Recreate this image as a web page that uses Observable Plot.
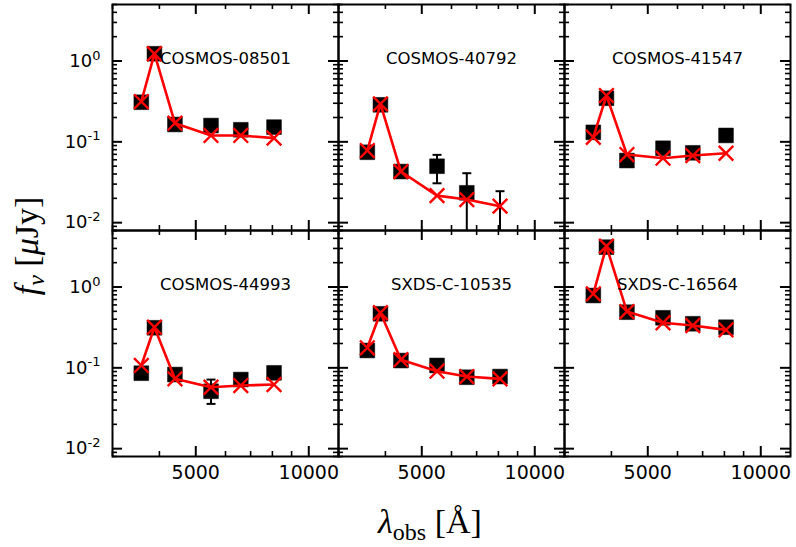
<!DOCTYPE html>
<html><head><meta charset="utf-8">
<script src="https://cdn.jsdelivr.net/npm/d3@7"></script>
<script src="https://cdn.jsdelivr.net/npm/@observablehq/plot@0.6"></script>
<style>
body{margin:0;background:#fff;}
#chart{width:796px;height:547px;overflow:hidden;}
</style></head><body><div id="chart"></div>
<script>
// ---- data ----
const panelNames = ["COSMOS-08501","COSMOS-40792","COSMOS-41547","COSMOS-44993","SXDS-C-10535","SXDS-C-16564"];
const wavelengths = [3580, 3880, 4400, 5490, 6590, 8080];
const obsFlux = [
  [0.309, 1.23, 0.164, 0.159, 0.141, 0.152],
  [0.0743, 0.287, 0.0429, 0.0499, 0.0234, 0.004],
  [0.131, 0.346, 0.0587, 0.0833, 0.0731, 0.120],
  [0.0858, 0.313, 0.0826, 0.0513, 0.0716, 0.0867],
  [0.164, 0.466, 0.123, 0.107, 0.0765, 0.078],
  [0.785, 3.11, 0.488, 0.416, 0.351, 0.318]
];
const obsErrLow = [
  [null, null, null, null, null, null],
  [null, null, null, 0.0307, 0.0001, 0.0001],
  [null, null, null, 0.074, null, null],
  [null, null, null, 0.0358, null, 0.076],
  [null, null, null, null, null, null],
  [null, null, null, null, null, null]
];
const obsErrHigh = [
  [null, null, null, null, null, null],
  [null, null, null, 0.069, 0.0409, 0.0245],
  [null, null, null, 0.094, null, null],
  [null, null, null, 0.0716, null, 0.099],
  [null, null, null, null, null, null],
  [null, null, null, null, null, null]
];
const modelFlux = [
  [0.315, 1.23, 0.170, 0.120, 0.120, 0.111],
  [0.078, 0.295, 0.0429, 0.0216, 0.0193, 0.016],
  [0.114, 0.374, 0.0696, 0.0627, 0.0677, 0.0722],
  [0.107, 0.318, 0.0731, 0.0575, 0.0604, 0.0621],
  [0.177, 0.480, 0.126, 0.0908, 0.078, 0.0731],
  [0.824, 3.20, 0.497, 0.361, 0.334, 0.295]
];
const xMajorTicks = [5000, 10000];
const xMinorTicks = [3000, 4000, 6000, 7000, 8000, 9000];
const yMajorTicks = [0.01, 0.1, 1];
const yMinorTicks = [0.008, 0.009, 0.02, 0.03, 0.04, 0.05, 0.06, 0.07, 0.08, 0.09,
                     0.2, 0.3, 0.4, 0.5, 0.6, 0.7, 0.8, 0.9, 2, 3, 4, 5];

// ---- tables ----
const rows = [];
const errRows = [];
panelNames.forEach((name, p) => {
  wavelengths.forEach((wl, i) => {
    const r = {panel: name, col: p % 3, row: Math.floor(p / 3), wl,
      obs: obsFlux[p][i], model: modelFlux[p][i], lo: obsErrLow[p][i], hi: obsErrHigh[p][i]};
    rows.push(r);
    if (r.lo != null && r.hi != null) errRows.push(r);
  });
});
const labelRows = panelNames.map((name, p) => ({panel: name, col: p % 3, row: Math.floor(p / 3)}));

// ---- layout ----
const W = 796, H = 547, mL = 112, mR = 6, mT = 4, mB = 91;
const P = (W - mL - mR) / 3; // panel size
const MAJ = 10, MIN = 5;

const squareSym = {draw(ctx, size) { const r = Math.sqrt(size / Math.PI);
  ctx.moveTo(-r, -r); ctx.lineTo(r, -r); ctx.lineTo(r, r); ctx.lineTo(-r, r); ctx.closePath(); }};
const crossSym = {draw(ctx, size) { const r = Math.sqrt(size / Math.PI);
  ctx.moveTo(-r, -r); ctx.lineTo(r, r); ctx.moveTo(-r, r); ctx.lineTo(r, -r); }};
const capSym = {draw(ctx, size) { const r = Math.sqrt(size / Math.PI);
  ctx.moveTo(-r, 0); ctx.lineTo(r, 0); }};

const fxy = {fx: "col", fy: "row"};
const chart = Plot.plot({
  width: W, height: H,
  marginLeft: mL, marginRight: mR, marginTop: mT, marginBottom: mB,
  style: {fontFamily: "DejaVu Sans", background: "white", color: "black"},
  x: {type: "log", domain: [3000, 12000]},
  y: {type: "log", domain: [0.008, 5]},
  fx: {domain: [0, 1, 2], padding: 0, axis: null},
  fy: {domain: [0, 1], padding: 0, axis: null},
  marks: [
    // observed squares
    Plot.dot(rows, {x: "wl", y: "obs", ...fxy, symbol: squareSym, r: 7.4, fill: "black", stroke: "black", strokeWidth: 0.5, clip: true}),
    // error bars
    Plot.ruleX(errRows, {x: "wl", y1: "lo", y2: "hi", ...fxy, stroke: "black", strokeWidth: 2, clip: true}),
    Plot.dot(errRows, {x: "wl", y: "hi", ...fxy, symbol: capSym, r: 4.5, fill: "none", stroke: "black", strokeWidth: 2, clip: true}),
    Plot.dot(errRows, {x: "wl", y: "lo", ...fxy, symbol: capSym, r: 4.5, fill: "none", stroke: "black", strokeWidth: 2, clip: true}),
    // model
    Plot.line(rows, {x: "wl", y: "model", z: "panel", ...fxy, stroke: "red", strokeWidth: 2.6}),
    Plot.dot(rows, {x: "wl", y: "model", ...fxy, symbol: crossSym, r: 7.3, fill: "none", stroke: "red", strokeWidth: 2.4}),
    // panel labels
    Plot.text(labelRows, {text: "panel", ...fxy, frameAnchor: "top", dy: 48, fontSize: 16.5, fill: "black"}),
    // frame
    Plot.frame({stroke: "black", strokeWidth: 2}),
    // inward ticks on all four sides
    Plot.tickX(xMajorTicks, {x: d => d, insetTop: P - MAJ, stroke: "black", strokeWidth: 2}),
    Plot.tickX(xMajorTicks, {x: d => d, insetBottom: P - MAJ, stroke: "black", strokeWidth: 2}),
    Plot.tickX(xMinorTicks, {x: d => d, insetTop: P - MIN, stroke: "black", strokeWidth: 1.6}),
    Plot.tickX(xMinorTicks, {x: d => d, insetBottom: P - MIN, stroke: "black", strokeWidth: 1.6}),
    Plot.tickY(yMajorTicks, {y: d => d, insetRight: P - MAJ, stroke: "black", strokeWidth: 2}),
    Plot.tickY(yMajorTicks, {y: d => d, insetLeft: P - MAJ, stroke: "black", strokeWidth: 2}),
    Plot.tickY(yMinorTicks, {y: d => d, insetRight: P - MIN, stroke: "black", strokeWidth: 1.6}),
    Plot.tickY(yMinorTicks, {y: d => d, insetLeft: P - MIN, stroke: "black", strokeWidth: 1.6}),
    // tick labels
    Plot.axisX({anchor: "bottom", ticks: xMajorTicks, tickSize: 0, tickPadding: 9, fontSize: 19,
      tickFormat: d => String(d), label: null}),
    Plot.axisY({anchor: "left", ticks: yMajorTicks, tickSize: 0, tickPadding: 12, fontSize: 18,
      tickFormat: d => String(Math.round(Math.log10(d))), label: null})
  ]
});
document.getElementById("chart").appendChild(chart);

// superscript exponents on the y tick labels
d3.select(chart).selectAll('[aria-label="y-axis tick label"] text').each(function() {
  const e = this.textContent;
  const t = d3.select(this);
  t.text("10");
  t.append("tspan").attr("dy", "-0.55em").attr("font-size", "13px").text(e.replace("−", "-"));
});

// axis titles
const svg = d3.select(chart);
const yt = svg.append("text")
  .attr("transform", "translate(38,246) rotate(-90)")
  .attr("text-anchor", "middle")
  .style("font-family", "'Liberation Serif', serif").style("font-size", "34px").attr("fill", "black");
yt.append("tspan").attr("font-style", "italic").text("f");
yt.append("tspan").attr("font-style", "italic").attr("font-size", "24px").attr("dy", 6).text("ν");
yt.append("tspan").attr("dy", -6).text(" [");
yt.append("tspan").attr("font-style", "italic").text("μ");
yt.append("tspan").text("Jy]");

const xt = svg.append("text")
  .attr("x", 430).attr("y", 533)
  .attr("text-anchor", "middle")
  .style("font-family", "'Liberation Serif', serif").style("font-size", "34px").attr("fill", "black");
xt.append("tspan").attr("font-style", "italic").text("λ");
xt.append("tspan").attr("font-size", "24px").attr("dy", 7).text("obs");
xt.append("tspan").attr("dy", -7).text(" [Å]");
</script></body></html>
